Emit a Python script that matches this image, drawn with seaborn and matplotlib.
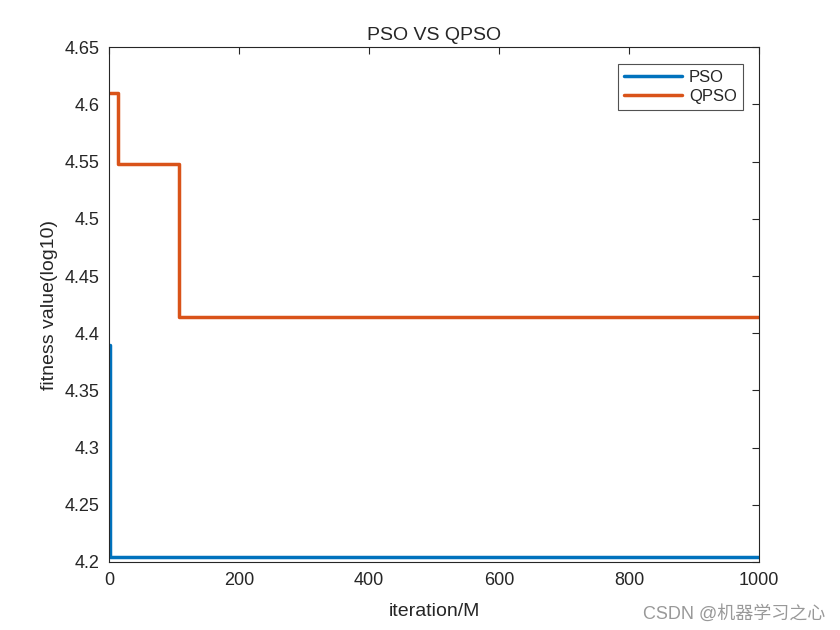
import matplotlib
matplotlib.use("Agg")
import matplotlib.pyplot as plt
import seaborn as sns
import pandas as pd

# step-change points of the convergence curves (iteration, log10 fitness)
pso_iter = [1, 2, 1000]
pso_fit = [4.390, 4.204, 4.204]
qpso_iter = [1, 14, 107, 1000]
qpso_fit = [4.610, 4.548, 4.414, 4.414]

sns.set_style("white")
plt.rcParams["font.family"] = ["Liberation Sans", "Noto Sans CJK SC", "DejaVu Sans"]

df = pd.concat([
    pd.DataFrame({"iter": pso_iter, "fit": pso_fit, "alg": "PSO"}),
    pd.DataFrame({"iter": qpso_iter, "fit": qpso_fit, "alg": "QPSO"}),
])

fig = plt.figure(figsize=(8.4, 6.3), dpi=100)
ax = fig.add_axes([0.13, 0.108, 0.7738, 0.817])
sns.lineplot(data=df, x="iter", y="fit", hue="alg", palette=["#0072BD", "#D95319"],
             drawstyle="steps-post", linewidth=2.5, ax=ax)

ax.set_xlim(0, 1000)
ax.set_ylim(4.2, 4.65)
ax.set_xticks([0, 200, 400, 600, 800, 1000])
ax.set_yticks([4.2, 4.25, 4.3, 4.35, 4.4, 4.45, 4.5, 4.55, 4.6, 4.65])
ax.set_yticklabels(["4.2", "4.25", "4.3", "4.35", "4.4", "4.45", "4.5", "4.55", "4.6", "4.65"])
ax.tick_params(direction="in", length=5, width=0.8, labelsize=13, colors="#262626",
               top=True, right=True, pad=7)
for s in ax.spines.values():
    s.set_color("#262626")
    s.set_linewidth(0.8)

ax.set_title("PSO VS QPSO", fontsize=14, pad=5)
ax.set_xlabel("iteration/M", fontsize=14, labelpad=10)
ax.set_ylabel("fitness value(log10)", fontsize=14, labelpad=5)
leg = ax.legend(loc="upper right", fontsize=12, frameon=True, fancybox=False,
                handlelength=3.5, borderpad=0.35, labelspacing=0.25,
                handletextpad=0.4, borderaxespad=1.0)
leg.get_frame().set_edgecolor("#262626")
leg.get_frame().set_linewidth(0.8)

fig.text(0.982, 0.012, "CSDN @机器学习之心", ha="right", va="bottom",
         fontsize=13, color="#999999")

fig.savefig("out.png", dpi=100)
